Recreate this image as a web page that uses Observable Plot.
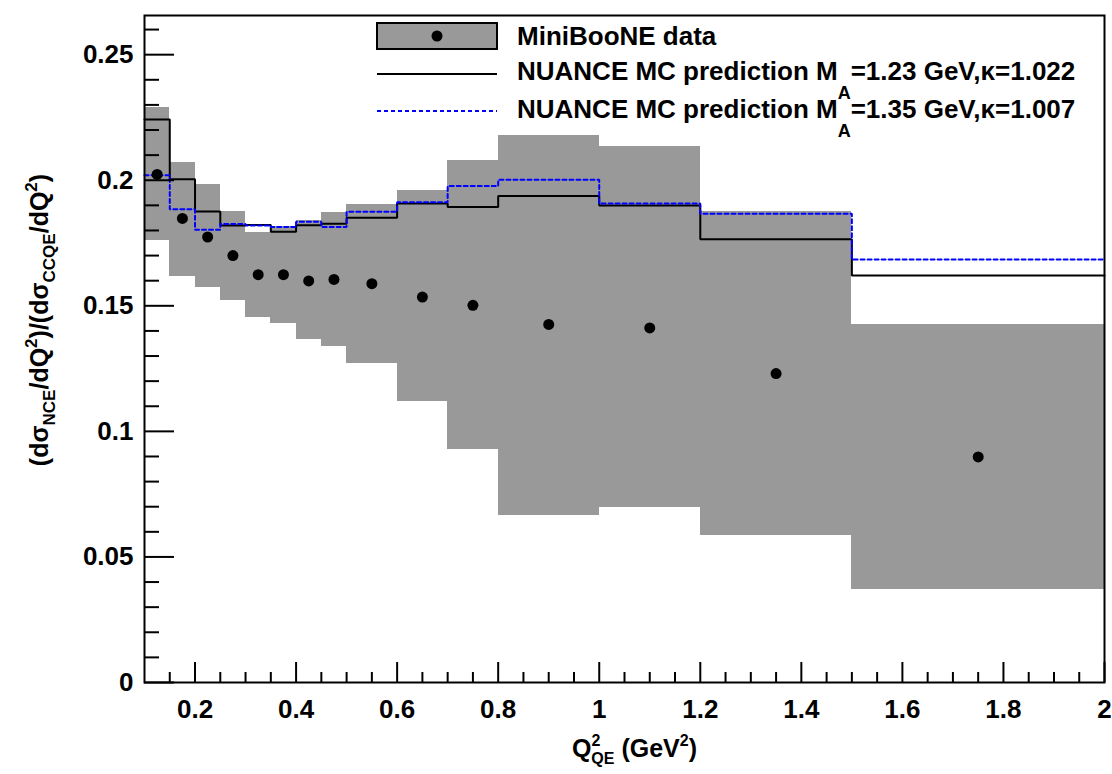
<!DOCTYPE html>
<html><head><meta charset="utf-8">
<script src="https://cdn.jsdelivr.net/npm/d3@7"></script>
<script src="https://cdn.jsdelivr.net/npm/@observablehq/plot@0.6"></script>
<style>
body{margin:0;background:#fff;}
#wrap{position:relative;width:1112px;height:774px;font-family:"Liberation Sans",Arial,Helvetica,sans-serif;}
</style></head><body><div id="wrap"></div>
<script>
// Bin edges of Q^2_QE (GeV^2)
const binEdges = [0.1,0.15,0.2,0.25,0.3,0.35,0.4,0.45,0.5,0.6,0.7,0.8,1.0,1.2,1.5,2.0];
// MiniBooNE data points (bin centres)
const dataX = [0.125,0.175,0.225,0.275,0.325,0.375,0.425,0.475,0.55,0.65,0.75,0.9,1.1,1.35,1.75];
const dataValues = [0.2023,0.1848,0.1774,0.1700,0.1624,0.1624,0.1599,0.1605,0.1588,0.1535,0.1502,0.1426,0.1412,0.1230,0.0898];
// error band (gray boxes)
const errLow  = [0.1761,0.1618,0.1572,0.1522,0.1452,0.1429,0.1365,0.1339,0.1270,0.1117,0.0928,0.0665,0.0697,0.0586,0.0370];
const errHigh = [0.2291,0.2069,0.1984,0.1877,0.1792,0.1815,0.1840,0.1870,0.1903,0.1958,0.2077,0.2180,0.2134,0.1877,0.1426];
// NUANCE MC predictions
const nuance123 = [0.2242,0.2004,0.1876,0.1820,0.1822,0.1795,0.1821,0.1827,0.1851,0.1907,0.1893,0.1937,0.1899,0.1765,0.1621];
const nuance135 = [0.2020,0.1884,0.1803,0.1826,0.1820,0.1814,0.1835,0.1814,0.1875,0.1912,0.1977,0.2002,0.1907,0.1867,0.1684];
// axis ticks
const yTicks = [0,0.05,0.1,0.15,0.2,0.25];
const yTickLabels = ["0","0.05","0.1","0.15","0.2","0.25"];
const yMinorTicks = [0.01,0.02,0.03,0.04,0.06,0.07,0.08,0.09,0.11,0.12,0.13,0.14,0.16,0.17,0.18,0.19,0.21,0.22,0.23,0.24,0.26];
const xTicks = [0.2,0.4,0.6,0.8,1,1.2,1.4,1.6,1.8,2];
const xTickLabels = ["0.2","0.4","0.6","0.8","1","1.2","1.4","1.6","1.8","2"];
const xMinorTicks = [0.15,0.25,0.3,0.35,0.45,0.5,0.55,0.65,0.7,0.75,0.85,0.9,0.95,1.05,1.1,1.15,1.25,1.3,1.35,1.45,1.5,1.55,1.65,1.7,1.75,1.85,1.9,1.95];
const legendLabels = ["MiniBooNE data","NUANCE MC prediction M","=1.23 GeV,κ=1.022","=1.35 GeV,κ=1.007"];

const bins = errLow.map((lo,i)=>({x1:binEdges[i],x2:binEdges[i+1],y1:lo,y2:errHigh[i]}));
const points = dataX.map((x,i)=>({x,y:dataValues[i]}));
function steps(vals){const p=[];vals.forEach((v,i)=>{p.push({x:binEdges[i],y:v});p.push({x:binEdges[i+1],y:v});});return p;}

const BLUE = "#0000ff";
const font = {fontSize:26,fontWeight:"bold"};
const chart = Plot.plot({
  width:1112, height:774,
  marginLeft:144, marginRight:8, marginTop:15, marginBottom:92,
  style:{fontFamily:"'Liberation Sans', Arial, Helvetica, sans-serif", background:"white", color:"black"},
  x:{domain:[0.1,2]},
  y:{domain:[0,0.2656]},
  marks:[
    Plot.rect(bins,{x1:"x1",x2:"x2",y1:"y1",y2:"y2",fill:"#999999",shapeRendering:"crispEdges"}),
    Plot.line(steps(nuance123),{x:"x",y:"y",stroke:"black",strokeWidth:2,strokeLinejoin:"miter"}),
    Plot.line(steps(nuance135),{x:"x",y:"y",stroke:BLUE,strokeWidth:2,strokeDasharray:"4,3",strokeLinejoin:"miter"}),
    Plot.dot(points,{x:"x",y:"y",r:5.5,fill:"black",stroke:null}),
    Plot.axisY(yTicks,{tickSize:-30,tickPadding:41,strokeWidth:2,tickFormat:d=>yTickLabels[yTicks.indexOf(d)],label:null,...font}),
    Plot.axisY(yMinorTicks,{tickSize:-15,strokeWidth:2,tickFormat:()=>"",label:null}),
    Plot.axisX(xTicks,{tickSize:-20,tickPadding:37,strokeWidth:2,tickFormat:d=>xTickLabels[xTicks.indexOf(d)],label:null,...font}),
    Plot.axisX(xMinorTicks,{tickSize:-10,strokeWidth:2,tickFormat:()=>"",label:null}),
    Plot.frame({stroke:"black",strokeWidth:2})
  ]
});
document.getElementById("wrap").appendChild(chart);

const svg = d3.select(chart);
// y axis title
const yt = svg.append("text").attr("transform","translate(48,320) rotate(-90)")
  .attr("text-anchor","middle").attr("font-size",25).attr("font-weight","bold").attr("fill","black");
yt.append("tspan").text("(dσ");
yt.append("tspan").attr("font-size",17).attr("dy",7).text("NCE");
yt.append("tspan").attr("dy",-7).text("/dQ");
yt.append("tspan").attr("font-size",17).attr("dy",-11).text("2");
yt.append("tspan").attr("dy",11).text(")/(dσ");
yt.append("tspan").attr("font-size",17).attr("dy",7).text("CCQE");
yt.append("tspan").attr("dy",-7).text("/dQ");
yt.append("tspan").attr("font-size",17).attr("dy",-11).text("2");
yt.append("tspan").attr("dy",11).text(")");
// x axis title
const xt = svg.append("text").attr("x",572).attr("y",757).attr("text-anchor","start")
  .attr("font-size",25).attr("font-weight","bold").attr("fill","black");
xt.append("tspan").text("Q");
xt.append("tspan").attr("font-size",16).attr("dy",-11).text("2");
xt.append("tspan").attr("font-size",16).attr("dx",-9).attr("dy",18).text("QE");
xt.append("tspan").attr("dy",-7).text(" (GeV");
xt.append("tspan").attr("font-size",16).attr("dy",-11).text("2");
xt.append("tspan").attr("dy",11).text(")");

// legend
const lg = svg.append("g").attr("text-anchor","start");
lg.append("rect").attr("x",377).attr("y",23).attr("width",120).attr("height",26).attr("fill","#999999").attr("stroke","black").attr("stroke-width",2);
lg.append("circle").attr("cx",437).attr("cy",36).attr("r",5.5).attr("fill","black");
lg.append("line").attr("x1",377).attr("x2",497).attr("y1",74).attr("y2",74).attr("stroke","black").attr("stroke-width",2);
lg.append("line").attr("x1",377).attr("x2",497).attr("y1",111).attr("y2",111).attr("stroke",BLUE).attr("stroke-width",2).attr("stroke-dasharray","4,3");
const lt = (y)=>lg.append("text").attr("x",517).attr("y",y).attr("text-anchor","start").attr("font-size",26).attr("font-weight","bold").attr("fill","black");
lt(45).text(legendLabels[0]);
for (const [i,y] of [[2,80],[3,118]]) {
  const t = lt(y);
  t.append("tspan").text(legendLabels[1]);
  t.append("tspan").attr("font-size",18).attr("dy",19).text("A");
  t.append("tspan").attr("dy",-19).text(legendLabels[i]);
}
</script></body></html>
